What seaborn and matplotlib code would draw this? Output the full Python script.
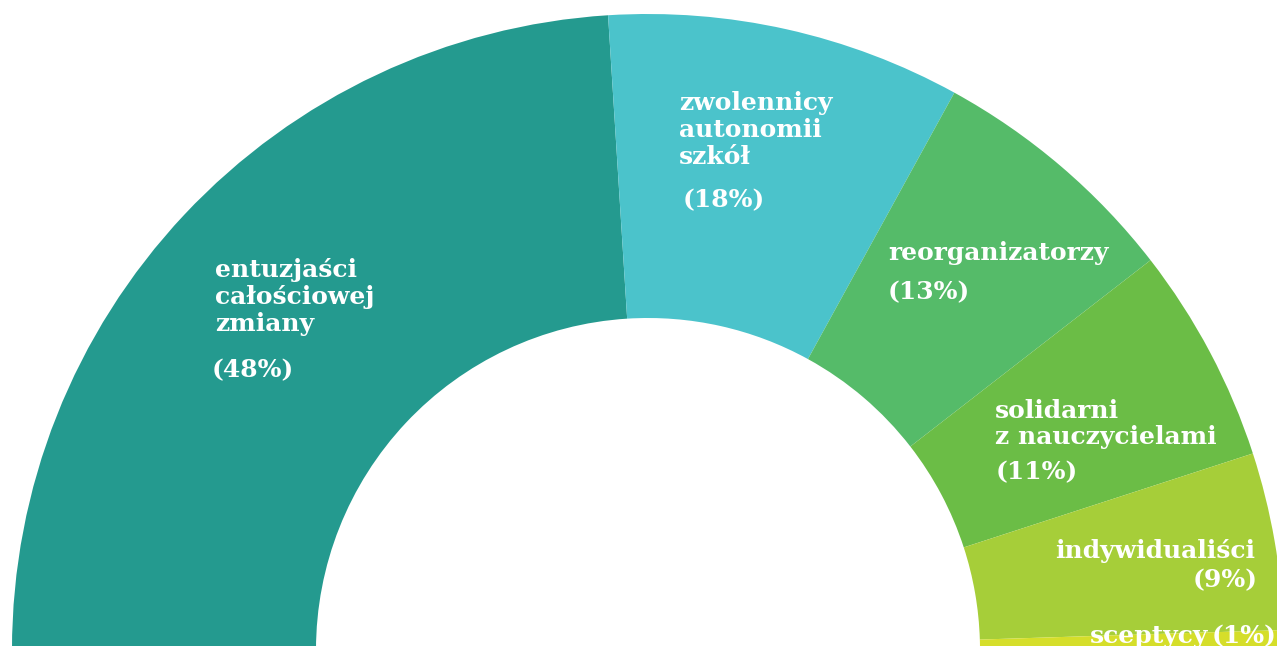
import matplotlib
matplotlib.use("Agg")
import matplotlib.pyplot as plt
import seaborn as sns

categories = ["entuzjaści\ncałościowej\nzmiany", "zwolennicy\nautonomii\nszkół", "reorganizatorzy",
              "solidarni\nz nauczycielami", "indywidualiści", "sceptycy"]
shares = [48, 18, 13, 11, 9, 1]
pct_labels = ["(48%)", "(18%)", "(13%)", "(11%)", "(9%)", "(1%)"]
colors = ["#249A8F", "#4BC3CB", "#55BB69", "#6BBD46", "#A6CE39", "#D5DE2A"]

sns.set_theme(style="white")
plt.rcParams['font.family'] = ['DejaVu Serif']

W, H = 1277, 646
fig = plt.figure(figsize=(W / 100, H / 100), dpi=100)
ax = fig.add_axes([0, 0, 1, 1])

fracs = [s / 200 for s in shares]  # half donut
ax.pie(fracs, colors=colors, startangle=180, counterclock=False, normalize=False,
       radius=636, center=(648, -4), wedgeprops=dict(width=304, linewidth=0))
ax.set_xlim(0, W)
ax.set_ylim(0, H)
ax.set_aspect('equal', adjustable='box')
ax.axis('off')

fs = 18
kw = dict(color="white", fontsize=fs, fontweight="bold", linespacing=1.15)

def Y(y):
    return H - y

# entuzjaści
ax.text(215, Y(297), categories[0], ha="left", va="center", **kw)
ax.text(212, Y(370), pct_labels[0], ha="left", va="center", **kw)
# zwolennicy
ax.text(679, Y(130), categories[1], ha="left", va="center", **kw)
ax.text(683, Y(200), pct_labels[1], ha="left", va="center", **kw)
# reorganizatorzy
ax.text(888, Y(253), categories[2], ha="left", va="center", **kw)
ax.text(888, Y(292), pct_labels[2], ha="left", va="center", **kw)
# solidarni
ax.text(995, Y(424), categories[3], ha="left", va="center", **kw)
ax.text(996, Y(472), pct_labels[3], ha="left", va="center", **kw)
# indywidualiści
ax.text(1255, Y(551), categories[4], ha="right", va="center", **kw)
ax.text(1258, Y(580), pct_labels[4], ha="right", va="center", **kw)
# sceptycy
ax.text(1090, Y(636), categories[5], ha="left", va="center", **kw)
ax.text(1276, Y(636), pct_labels[5], ha="right", va="center", **kw)

fig.savefig("out.png", dpi=100)
